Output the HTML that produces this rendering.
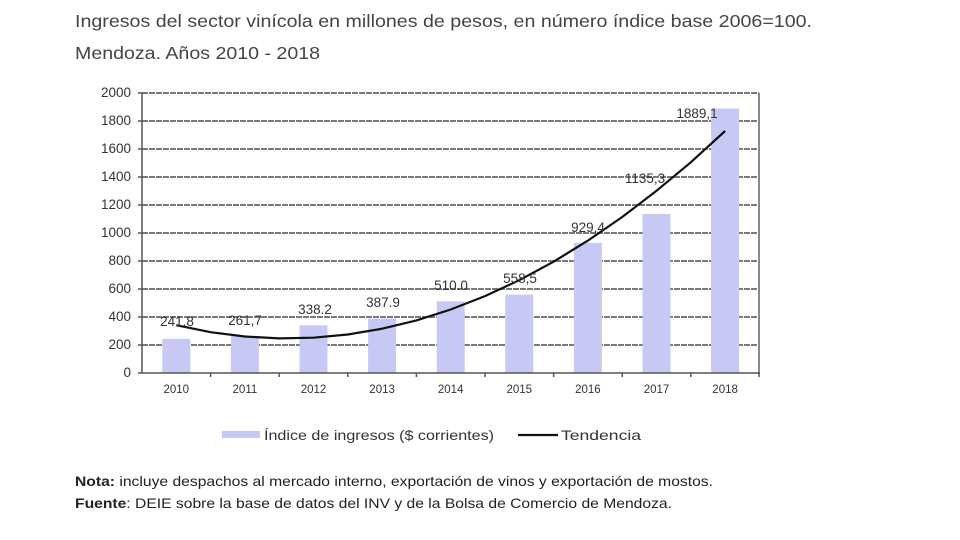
<!DOCTYPE html>
<html><head><meta charset="utf-8"><style>body{margin:0;background:#fff}svg{display:block}</style></head><body>
<svg width="960" height="540" xmlns="http://www.w3.org/2000/svg" font-family="Liberation Sans, Arial, sans-serif">
<rect width="960" height="540" fill="#fff"/>
<text x="75" y="27" font-size="17.5" fill="#444" textLength="737" lengthAdjust="spacingAndGlyphs">Ingresos del sector vinícola en millones de pesos, en número índice base 2006=100.</text>
<text x="75" y="59" font-size="17.5" fill="#444" textLength="245" lengthAdjust="spacingAndGlyphs">Mendoza. Años 2010 - 2018</text>
<g stroke="#7a7a7a" stroke-width="2" stroke-dasharray="6,1">
<line x1="142" x2="759" y1="93" y2="93"/><line x1="142" x2="759" y1="121" y2="121"/><line x1="142" x2="759" y1="149" y2="149"/><line x1="142" x2="759" y1="177" y2="177"/><line x1="142" x2="759" y1="205" y2="205"/><line x1="142" x2="759" y1="233" y2="233"/><line x1="142" x2="759" y1="261" y2="261"/><line x1="142" x2="759" y1="289" y2="289"/><line x1="142" x2="759" y1="317" y2="317"/><line x1="142" x2="759" y1="345" y2="345"/>
</g>
<line x1="759" x2="759" y1="93" y2="373" stroke="#8a8a8a" stroke-width="2"/>
<g fill="#c8c8f4">
<rect x="162.3" y="338.9" width="28" height="33.8"/><rect x="230.9" y="336.1" width="28" height="36.6"/><rect x="299.5" y="325.4" width="28" height="47.3"/><rect x="368.1" y="318.5" width="28" height="54.2"/><rect x="436.7" y="301.4" width="28" height="71.3"/><rect x="505.3" y="294.6" width="28" height="78.1"/><rect x="573.9" y="242.8" width="28" height="129.9"/><rect x="642.5" y="214" width="28" height="158.7"/><rect x="711.1" y="108.6" width="28" height="264.1"/>
</g>
<g stroke="#555" stroke-width="1.5">
<line x1="142" x2="142" y1="93" y2="373"/><line x1="138" x2="760" y1="373" y2="373"/>
<line x1="138" x2="142" y1="93" y2="93"/><line x1="138" x2="142" y1="121" y2="121"/><line x1="138" x2="142" y1="149" y2="149"/><line x1="138" x2="142" y1="177" y2="177"/><line x1="138" x2="142" y1="205" y2="205"/><line x1="138" x2="142" y1="233" y2="233"/><line x1="138" x2="142" y1="261" y2="261"/><line x1="138" x2="142" y1="289" y2="289"/><line x1="138" x2="142" y1="317" y2="317"/><line x1="138" x2="142" y1="345" y2="345"/>
<line x1="210.6" x2="210.6" y1="373" y2="377"/><line x1="279.2" x2="279.2" y1="373" y2="377"/><line x1="347.8" x2="347.8" y1="373" y2="377"/><line x1="416.4" x2="416.4" y1="373" y2="377"/><line x1="485" x2="485" y1="373" y2="377"/><line x1="553.6" x2="553.6" y1="373" y2="377"/><line x1="622.2" x2="622.2" y1="373" y2="377"/><line x1="690.8" x2="690.8" y1="373" y2="377"/><line x1="759" x2="759" y1="373" y2="377"/>
</g>
<g font-size="13.5" fill="#333" text-anchor="end">
<text x="131" y="97">2000</text><text x="131" y="125">1800</text><text x="131" y="153">1600</text><text x="131" y="181">1400</text><text x="131" y="209">1200</text><text x="131" y="237">1000</text><text x="131" y="265">800</text><text x="131" y="293">600</text><text x="131" y="321">400</text><text x="131" y="349">200</text><text x="131" y="377">0</text>
</g>
<g font-size="11.5" fill="#333" text-anchor="middle">
<text x="176.3" y="393">2010</text><text x="244.9" y="393">2011</text><text x="313.5" y="393">2012</text><text x="382.1" y="393">2013</text><text x="450.7" y="393">2014</text><text x="519.3" y="393">2015</text><text x="587.9" y="393">2016</text><text x="656.5" y="393">2017</text><text x="725.1" y="393">2018</text>
</g>
<polyline fill="none" stroke="#111" stroke-width="2.2" points="176.3,325.2 210.6,332.2 244.9,336.5 279.2,338.4 313.5,337.7 347.8,334.5 382.1,328.7 416.4,320.4 450.7,309.5 485,296.1 519.3,280.2 553.6,261.7 587.9,240.6 622.2,217 656.5,190.8 690.8,162.3 725.1,131"/>
<g font-size="13.5" fill="#333" text-anchor="middle">
<text x="177" y="326">241,8</text><text x="245" y="325">261,7</text><text x="315" y="314">338.2</text><text x="383" y="307">387.9</text><text x="451" y="290">510.0</text><text x="520" y="283">558,5</text><text x="588" y="232">929,4</text><text x="645" y="183">1135,3</text><text x="697" y="118">1889,1</text>
</g>
<rect x="222" y="431" width="38" height="7" fill="#c8c8f4"/>
<text x="264" y="440" font-size="14" fill="#333" textLength="230" lengthAdjust="spacingAndGlyphs">Índice de ingresos ($ corrientes)</text>
<line x1="518" x2="558" y1="435" y2="435" stroke="#111" stroke-width="2.2"/>
<text x="561" y="440" font-size="14" fill="#333" textLength="80" lengthAdjust="spacingAndGlyphs">Tendencia</text>
<text x="75" y="486" font-size="14" fill="#222" textLength="638" lengthAdjust="spacingAndGlyphs"><tspan font-weight="bold">Nota:</tspan> incluye despachos al mercado interno, exportación de vinos y exportación de mostos.</text>
<text x="75" y="508" font-size="14" fill="#222" textLength="597" lengthAdjust="spacingAndGlyphs"><tspan font-weight="bold">Fuente</tspan>: DEIE sobre la base de datos del INV y de la Bolsa de Comercio de Mendoza.</text>
</svg>
</body></html>
